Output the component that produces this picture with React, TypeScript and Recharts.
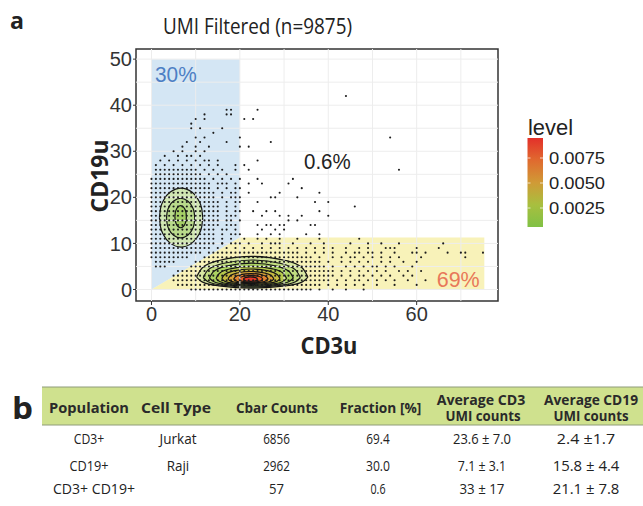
import React from 'react';
import { ComposedChart, XAxis, YAxis, Area, Scatter, ReferenceLine, ReferenceArea } from 'recharts';

// axis setup
const X_DOMAIN = [-3.5, 78.4];
const Y_DOMAIN = [-2.5, 52.2];
const X_TICKS = [0, 20, 40, 60];
const Y_TICKS = [0, 10, 20, 30, 40, 50];
const GRID_X = [0, 10, 20, 30, 40, 50, 60, 70];
const GRID_Y = [0, 5, 10, 15, 20, 25, 30, 35, 40, 45, 50];

// gates: [x, lower, upper]
const CD19_GATE: [number, number, number][] = [[0, 0, 50], [20, 11.3, 50]];
const CD3_GATE: [number, number, number][] = [[0, 0, 0], [20, 0, 11.3], [75.3, 0, 11.3]];

// dense rows of integer UMI pairs: [y, xFrom, xTo, step]
const DOT_ROWS: [number, number, number, number][] = [
  [0, 9, 36, 1], [1, 6, 38, 1], [1, 40, 44, 2], [2, 5, 40, 1], [2, 42, 44, 2],
  [3, 5, 41, 1], [3, 43, 45, 2], [4, 6, 41, 1], [4, 43, 45, 2],
  [5, 1, 3, 1], [5, 9, 39, 1], [5, 41, 44, 3], [6, 1, 5, 1], [6, 10, 38, 1], [6, 40, 43, 3],
  [7, 0, 8, 1], [7, 12, 36, 1], [7, 38, 41, 3],
  [8, 0, 11, 1], [8, 13, 33, 1], [8, 35, 37, 2], [9, 0, 13, 1], [9, 15, 33, 2], [10, 0, 14, 1], [10, 16, 28, 3],
  [11, 0, 14, 1], [12, 0, 14, 1], [13, 0, 14, 1], [14, 0, 15, 1], [15, 0, 15, 1],
  [16, 0, 15, 1], [17, 0, 15, 1], [18, 0, 15, 1], [19, 0, 15, 1], [20, 0, 14, 1],
  [21, 0, 14, 1], [22, 0, 13, 1], [23, 0, 13, 1], [24, 0, 12, 1], [25, 1, 11, 1],
  [26, 1, 10, 1], [27, 1, 11, 2], [28, 2, 12, 2],
];

// sparse dots: [y, x values]
const DOT_SPARSE: [number, number[]][] = [
  [42, [44]], [39, [17, 18, 24]], [38, [12, 17, 18]], [37, [10, 12, 21, 23]], [36, [9]],
  [35, [9, 11, 16]], [34, [14]], [33, [10, 12, 20, 54]], [32, [8, 11, 17, 27]],
  [31, [7, 10, 13, 20, 22]], [30, [5, 7, 10, 12]], [29, [3, 6, 8, 9, 11]], [28, [13, 15, 24]],
  [27, [13, 15, 19, 21]], [26, [12, 14, 16, 19, 22, 56]], [25, [13, 15, 17]], [24, [14, 16, 18, 20, 24, 32]],
  [23, [15, 16, 17, 19, 22, 25, 31]], [22, [15, 17, 19, 20, 34]], [21, [16, 18, 19, 22, 29, 38]],
  [20, [16, 18, 19, 20, 27, 28, 33]], [19, [17, 19, 20, 24, 37, 40]], [18, [17, 19, 46]],
  [17, [17, 19, 20, 23, 26, 28, 38]], [16, [17, 18, 19, 25, 29, 31, 34, 40]], [15, [17, 18, 20, 31, 33]],
  [14, [17, 18, 19, 24, 26, 27, 29, 30, 36, 37]], [13, [16, 17, 19, 25, 28, 30]],
  [12, [16, 18, 19, 20, 24, 27, 29, 35, 38]], [11, [16, 18, 21, 24, 26, 29, 33, 38, 47]],
  [10, [16, 18, 20, 27, 29, 32, 36, 39, 45, 49, 52, 56, 66]],
  [9, [35, 37, 39, 41, 44, 47, 49, 53, 54, 55, 60, 65]],
  [8, [39, 41, 44, 46, 47, 49, 50, 52, 55, 59, 60, 62, 67, 70, 71, 75]],
  [7, [43, 45, 46, 48, 50, 52, 54, 56, 61, 71]],
  [6, [45, 47, 49, 52, 54, 57, 60]],
  [5, [46, 48, 50, 51, 53, 55, 59]],
  [4, [47, 49, 51, 53, 56, 58, 61]],
  [3, [47, 48, 50, 52, 54, 57, 59]],
  [2, [46, 47, 49, 51, 53, 55, 58, 62]],
  [1, [46, 48, 51, 55, 60]],
  [0, [38, 41, 44, 48]],
];

// density contours, outer to inner: [x, lower, upper]
const CD19_CONTOURS: { fill: string; pts: [number, number, number][] }[] = [
  { fill: '#cfe5ab', pts: [[1.8, 15.6, 15.6], [2.05, 13.6, 17.6], [2.78, 11.76, 19.44], [4.25, 10.06, 21.14], [6.7, 9.2, 22.0], [9.15, 10.06, 21.14], [10.62, 11.76, 19.44], [11.36, 13.6, 17.6], [11.6, 15.6, 15.6]] },
  { fill: '#b6d886', pts: [[3.4, 15.5, 15.5], [3.56, 14.16, 16.84], [4.04, 12.92, 18.08], [5.0, 11.78, 19.22], [6.6, 11.2, 19.8], [8.2, 11.78, 19.22], [9.16, 12.92, 18.08], [9.64, 14.16, 16.84], [9.8, 15.5, 15.5]] },
  { fill: '#a3cd62', pts: [[5.3, 15.8, 15.8], [5.37, 15.05, 16.55], [5.56, 14.36, 17.24], [5.95, 13.72, 17.88], [6.6, 13.4, 18.2], [7.25, 13.72, 17.88], [7.64, 14.36, 17.24], [7.84, 15.05, 16.55], [7.9, 15.8, 15.8]] },
];

const CD3_CONTOURS: { fill: string; pts: [number, number, number][] }[] = [
  { fill: '#d4e6a0', pts: [[10.2, 2.7, 2.7], [11.46, 1.65, 4.66], [15.24, 0.78, 6.3], [22.8, 0.3, 7.2], [30.36, 0.78, 6.3], [34.14, 1.65, 4.66], [35.4, 2.7, 2.7]] },
  { fill: '#bfdb7c', pts: [[11.7, 2.6, 2.6], [12.8, 1.68, 4.26], [16.1, 0.92, 5.64], [22.7, 0.5, 6.4], [29.3, 0.92, 5.64], [32.6, 1.68, 4.26], [33.7, 2.6, 2.6]] },
  { fill: '#aad15e', pts: [[13.1, 2.5, 2.5], [14.05, 1.72, 3.9], [16.9, 1.06, 5.06], [22.6, 0.7, 5.7], [28.3, 1.06, 5.06], [31.15, 1.72, 3.9], [32.1, 2.5, 2.5]] },
  { fill: '#b7c84a', pts: [[14.6, 2.4, 2.4], [15.4, 1.75, 3.53], [17.8, 1.2, 4.48], [22.6, 0.9, 5.0], [27.4, 1.2, 4.48], [29.8, 1.75, 3.53], [30.6, 2.4, 2.4]] },
  { fill: '#c9b93f', pts: [[15.9, 2.35, 2.35], [16.56, 1.8, 3.27], [18.54, 1.35, 4.03], [22.5, 1.1, 4.45], [26.46, 1.35, 4.03], [28.44, 1.8, 3.27], [29.1, 2.35, 2.35]] },
  { fill: '#d9a038', pts: [[17.3, 2.3, 2.3], [17.82, 1.86, 3.0], [19.38, 1.5, 3.58], [22.5, 1.3, 3.9], [25.62, 1.5, 3.58], [27.18, 1.86, 3.0], [27.7, 2.3, 2.3]] },
  { fill: '#e5802f', pts: [[18.6, 2.25, 2.25], [18.99, 1.9, 2.77], [20.16, 1.61, 3.21], [22.5, 1.45, 3.45], [24.84, 1.61, 3.21], [26.01, 1.9, 2.77], [26.4, 2.25, 2.25]] },
  { fill: '#e85d29', pts: [[19.8, 2.2, 2.2], [20.07, 1.94, 2.57], [20.88, 1.72, 2.88], [22.5, 1.6, 3.05], [24.12, 1.72, 2.88], [24.93, 1.94, 2.57], [25.2, 2.2, 2.2]] },
  { fill: '#e3332a', pts: [[20.8, 2.2, 2.2], [20.96, 2.0, 2.44], [21.44, 1.84, 2.64], [22.4, 1.75, 2.75], [23.36, 1.84, 2.64], [23.84, 2.0, 2.44], [24.0, 2.2, 2.2]] },
];

// legend
const LEVEL_TICKS = ['0.0075', '0.0050', '0.0025'];

// table (panel b)
const TABLE_HEAD = ['Population', 'Cell Type', 'Cbar Counts', 'Fraction [%]', 'Average CD3|UMI counts', 'Average CD19|UMI counts'];
const TABLE_ROWS = [
  ['CD3+', 'Jurkat', '6856', '69.4', '23.6 ± 7.0', '2.4 ±1.7'],
  ['CD19+', 'Raji', '2962', '30.0', '7.1 ± 3.1', '15.8 ± 4.4'],
  ['CD3+ CD19+', '', '57', '0.6', '33 ± 17', '21.1 ± 7.8'],
];

const toRange = (pts: [number, number, number][]) => pts.map(([x, lo, hi]) => ({ x, r: [lo, hi] }));

const dots: { x: number; y: number }[] = [];
for (const [y, x0, x1, step] of DOT_ROWS) for (let x = x0; x <= x1; x += step) dots.push({ x, y });
for (const [y, xs] of DOT_SPARSE) for (const x of xs) dots.push({ x, y });

const Dot = (p: any) => <circle cx={p.cx} cy={p.cy} r={1.05} fill="#1c1c1c" />;

// layout for table text
const HEAD_X = [89, 176, 277, 380.5, 481, 591];
const HEAD_W = [80, 70, 82, 81.6, 88.7, 94];
const ROW_X = [89, 178, 276.5, 378, 482, 586];
const ROW_Y = [444.3, 471, 494.3];
const ROW_W = [
  [30.5, 37, 26.7, 23.3, 58, 58.3],
  [39, 22.5, 26.7, 24, 48.3, 66.7],
  [82, 0, 15, 15, 45, 66.7],
];

const T = ({ x, y, w, size, bold, fill = '#222', anchor = 'middle', family = 'Open Sans', children }: any) => (
  <text
    x={x}
    y={y}
    fontSize={size}
    fontWeight={bold ? 700 : 400}
    fill={fill}
    textAnchor={anchor}
    fontFamily={family}
    textLength={w}
    lengthAdjust="spacingAndGlyphs"
  >
    {children}
  </text>
);

export default function App() {
  const tick = { fill: '#333', fontSize: 20, fontFamily: 'Liberation Sans, Arial' };
  return (
    <div style={{ position: 'absolute', left: 0, top: 0, width: 643, height: 506, background: '#fff' }}>
      <ComposedChart width={643} height={506} margin={{ top: 49, right: 145, bottom: 175, left: 96 }}>
        <XAxis
          type="number"
          dataKey="x"
          domain={X_DOMAIN}
          ticks={X_TICKS}
          allowDataOverflow
          axisLine={false}
          tickLine={{ stroke: '#333' }}
          tickSize={4}
          tick={tick}
          height={30}
        />
        <YAxis
          type="number"
          domain={Y_DOMAIN}
          ticks={Y_TICKS}
          allowDataOverflow
          axisLine={false}
          tickLine={{ stroke: '#333' }}
          tickSize={3}
          tickMargin={1}
          tick={tick}
          width={40}
        />
        {GRID_X.map(v => (
          <ReferenceLine key={`gx${v}`} x={v} stroke="#ededed" strokeWidth={1} />
        ))}
        {GRID_Y.map(v => (
          <ReferenceLine key={`gy${v}`} y={v} stroke="#ededed" strokeWidth={1} />
        ))}
        <Area
          data={toRange(CD19_GATE)}
          dataKey="r"
          type="linear"
          stroke="none"
          fill="#a9cde9"
          fillOpacity={0.5}
          dot={false}
          activeDot={false}
          isAnimationActive={false}
        />
        <Area
          data={toRange(CD3_GATE)}
          dataKey="r"
          type="linear"
          stroke="none"
          fill="#f4e98a"
          fillOpacity={0.6}
          dot={false}
          activeDot={false}
          isAnimationActive={false}
        />
        {[...CD19_CONTOURS, ...CD3_CONTOURS].map((c, i) => (
          <Area
            key={`c${i}`}
            data={toRange(c.pts)}
            dataKey="r"
            type="monotone"
            stroke="#151515"
            strokeWidth={1.2}
            fill={c.fill}
            fillOpacity={0.9}
            dot={false}
            activeDot={false}
            isAnimationActive={false}
          />
        ))}
        <Scatter data={dots} dataKey="y" shape={Dot} isAnimationActive={false} />
        <ReferenceArea
          x1={X_DOMAIN[0]}
          x2={X_DOMAIN[1]}
          y1={Y_DOMAIN[0]}
          y2={Y_DOMAIN[1]}
          fill="none"
          stroke="#333"
          strokeWidth={1.5}
          ifOverflow="visible"
        />
      </ComposedChart>

      <svg width={643} height={506} style={{ position: 'absolute', left: 0, top: 0, pointerEvents: 'none' }}>
        <defs>
          <linearGradient id="levelGrad" x1="0" y1="0" x2="0" y2="1">
            <stop offset="0%" stopColor="#e3302a" />
            <stop offset="25%" stopColor="#e06a2f" />
            <stop offset="50%" stopColor="#d09a36" />
            <stop offset="75%" stopColor="#a8bf3f" />
            <stop offset="100%" stopColor="#80c145" />
          </linearGradient>
        </defs>

        {/* panel a */}
        <T x={10} y={29} size={24} bold anchor="start" w={14}>a</T>
        <T x={257.5} y={34.3} size={22} w={189}>UMI Filtered (n=9875)</T>
        <T x={155} y={81.7} size={22} anchor="start" fill="#4d7fc4" family="Liberation Sans" w={41.7}>30%</T>
        <T x={304} y={169.3} size={22} anchor="start" fill="#222" family="Liberation Sans" w={46.7}>0.6%</T>
        <T x={436.7} y={287} size={22} anchor="start" fill="#e8785a" family="Liberation Sans" w={43}>69%</T>
        <g transform="translate(99,176) rotate(-90)">
          <text x={0} y={0} fontSize={23} fontWeight={700} fontFamily="Open Sans" fill="#222" textAnchor="middle"
            dominantBaseline="central" textLength={73} lengthAdjust="spacingAndGlyphs">CD19u</text>
        </g>
        <text x={329} y={345} fontSize={23} fontWeight={700} fontFamily="Open Sans" fill="#222" textAnchor="middle"
          dominantBaseline="central" textLength={57} lengthAdjust="spacingAndGlyphs">CD3u</text>

        {/* legend */}
        <T x={528} y={135} size={22} anchor="start" family="Liberation Sans" w={45}>level</T>
        <rect x={527.5} y={138} width={15.5} height={89} fill="url(#levelGrad)" />
        {LEVEL_TICKS.map((t, i) => (
          <g key={t}>
            <line x1={527.5} x2={530.5} y1={158 + i * 25} y2={158 + i * 25} stroke="#fff" strokeOpacity={0.7} />
            <line x1={540} x2={543} y1={158 + i * 25} y2={158 + i * 25} stroke="#fff" strokeOpacity={0.7} />
            <T x={549} y={164 + i * 25} size={17} anchor="start" family="Liberation Sans" w={56}>{t}</T>
          </g>
        ))}

        {/* panel b */}
        <T x={12} y={419} size={30} bold anchor="start" w={21}>b</T>
        <rect x={42} y={387} width={601} height={38} fill="#cfe18e" />
        <line x1={42} x2={643} y1={387} y2={387} stroke="#8f9c7a" strokeWidth={1} />
        <line x1={42} x2={643} y1={425} y2={425} stroke="#8f9c7a" strokeWidth={1} />
        {TABLE_HEAD.map((h, i) => {
          const parts = h.split('|');
          if (parts.length === 1) {
            return <T key={h} x={HEAD_X[i]} y={413.3} size={15} bold fill="#2a2a2a" w={HEAD_W[i]}>{h}</T>;
          }
          return (
            <g key={h}>
              <T x={HEAD_X[i]} y={404.5} size={14.5} bold fill="#2a2a2a" w={HEAD_W[i]}>{parts[0]}</T>
              <T x={HEAD_X[i] + (i === 4 ? 2 : 0)} y={420.5} size={14.5} bold fill="#2a2a2a" w={75}>{parts[1]}</T>
            </g>
          );
        })}
        {TABLE_ROWS.map((row, r) =>
          row.map((cell, c) =>
            cell ? (
              <T key={`${r}-${c}`} x={r === 2 && c === 0 ? 94 : ROW_X[c]} y={ROW_Y[r]} size={14.5} fill="#222" w={ROW_W[r][c]}>
                {cell}
              </T>
            ) : null
          )
        )}
      </svg>
    </div>
  );
}
